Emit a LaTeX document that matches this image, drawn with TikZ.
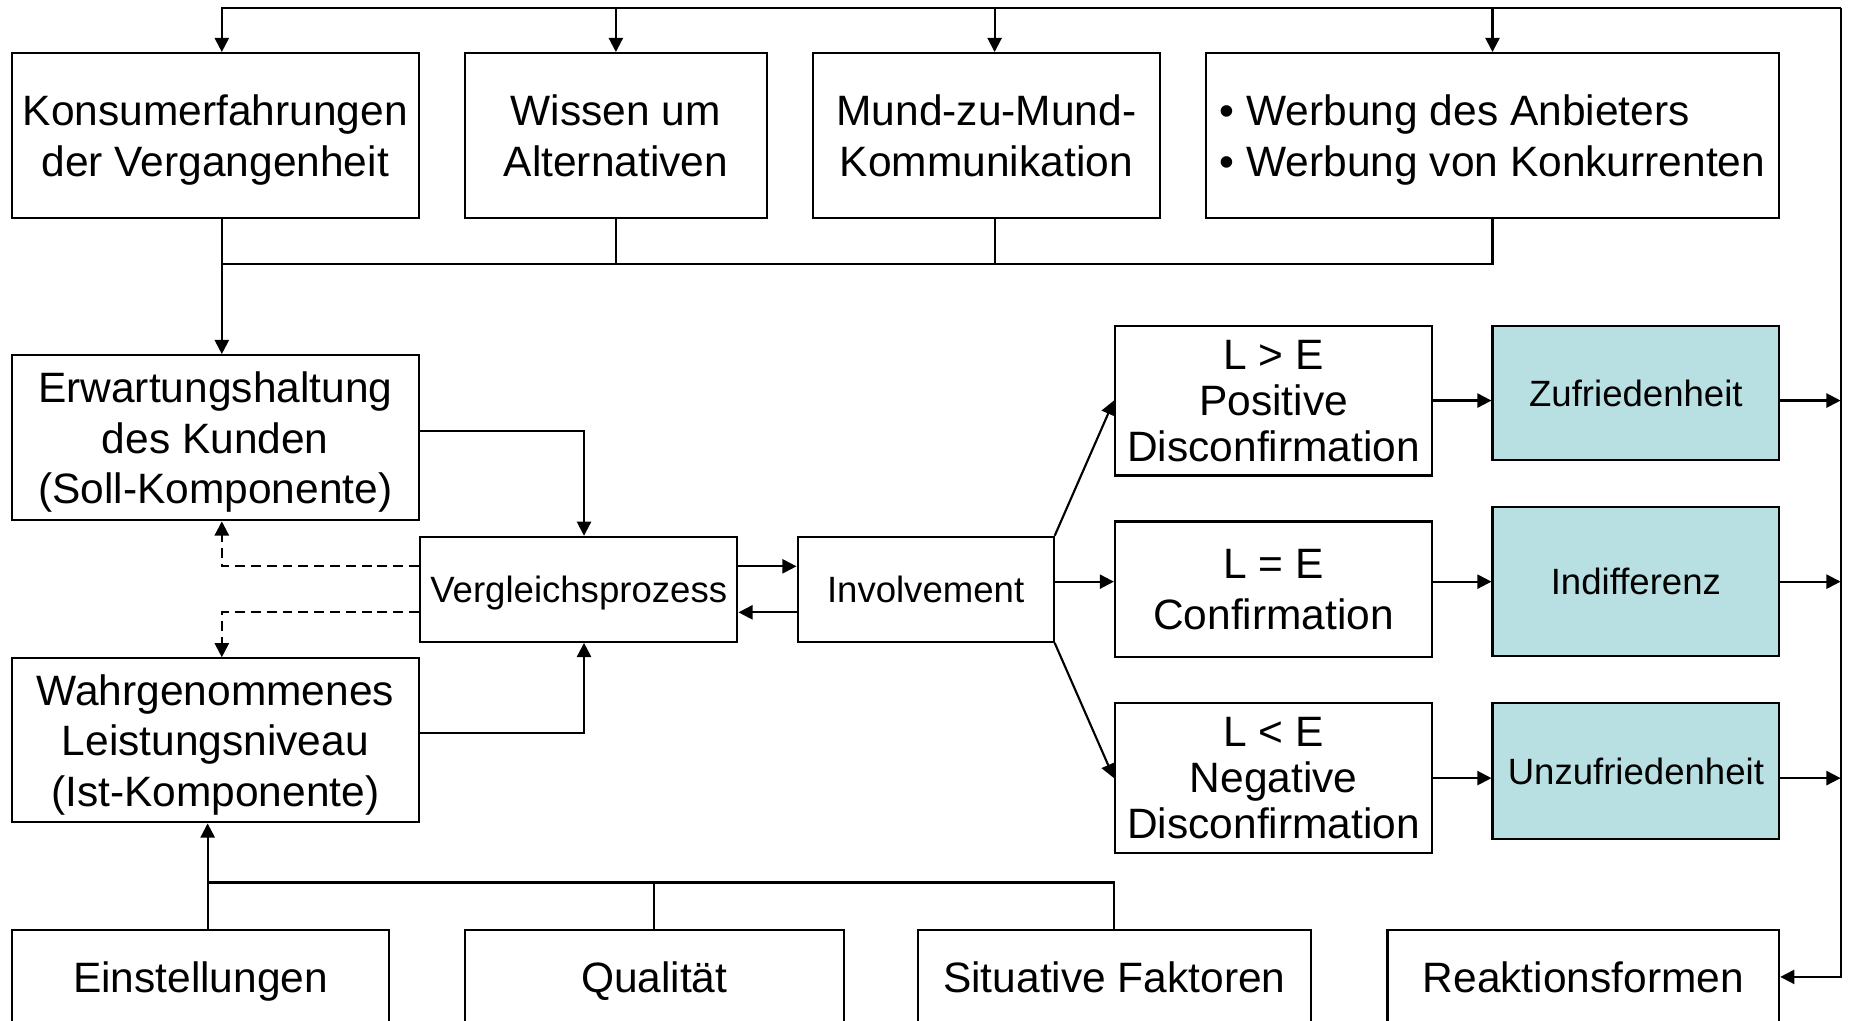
\documentclass[tikz,border=0pt]{standalone}
\usepackage{fontspec}
\setmainfont{Liberation Sans}
\usepackage{tikz}
\usetikzlibrary{arrows.meta,calc}
\definecolor{ink}{HTML}{000000}
\definecolor{lteal}{HTML}{B8DFE1}
\tikzset{
  >={Triangle[length=6pt,width=6pt]},
  every picture/.style={line width=0.9pt,draw=ink},
  bx/.style={draw=ink,fill=white,align=center,inner sep=0pt,text depth=0pt,font=\fontsize{18}{21.5}\selectfont},
  bxn/.style={bx,font=\fontsize{18}{19.5}\selectfont},
  bxs/.style={bx,font=\fontsize{15.5}{19}\selectfont},
  bxt/.style={bxs,fill=lteal},
  arr/.style={->,draw=ink},
  dsh/.style={->,draw=ink,dash pattern=on 4.2pt off 2.5pt},
}

\begin{document}
\begin{tikzpicture}[x=0.5pt,y=-0.5pt]
  \useasboundingbox (0,0) rectangle (1568,865);
  % sources on top
  \node[bx,minimum width=172.5pt,minimum height=70pt] (konsum) at (182.5,115) {Konsumerfahrungen\\der Vergangenheit};
  \node[bx,minimum width=128pt,minimum height=70pt] (wissen) at (522,115) {Wissen um\\Alternativen};
  \node[bx,minimum width=147pt,minimum height=70pt] (mund) at (836,115) {Mund-zu-Mund-\\Kommunikation};
  \node[bx,align=left,minimum width=243pt,minimum height=70pt] (werb) at (1265,115) {\textbullet\ Werbung des Anbieters\\\textbullet\ Werbung von Konkurrenten};
  % soll / ist and comparison
  \node[bx,minimum width=172.5pt,minimum height=70pt] (erw) at (182.5,371) {Erwartungshaltung\\des Kunden\\(Soll-Komponente)};
  \node[bx,minimum width=172.5pt,minimum height=69.5pt] (wahr) at (182.5,627.5) {Wahrgenommenes\\Leistungsniveau\\(Ist-Komponente)};
  \node[bxs,minimum width=134.5pt,minimum height=44.5pt] (vgl) at (490.5,499.5) {Vergleichsprozess};
  \node[bxs,minimum width=108.5pt,minimum height=44.5pt] (inv) at (784.5,499.5) {Involvement};
  % outcomes
  \node[bxn,minimum width=134.5pt,minimum height=63.5pt] (pos) at (1079.5,339.5) {L > E\\Positive\\Disconfirmation};
  \node[bx,minimum width=134.5pt,minimum height=57.5pt] (conf) at (1079.5,499.5) {L = E\\Confirmation};
  \node[bxn,minimum width=134.5pt,minimum height=63.5pt] (neg) at (1079.5,659.5) {L < E\\Negative\\Disconfirmation};
  \node[bxt,minimum width=121.5pt,minimum height=57pt] (zuf) at (1386.5,333) {Zufriedenheit};
  \node[bxt,minimum width=121.5pt,minimum height=63pt] (ind) at (1386.5,493) {Indifferenz};
  \node[bxt,minimum width=121.5pt,minimum height=57.5pt] (unz) at (1386.5,653.5) {Unzufriedenheit};
  % bottom row
  \node[bx,minimum width=160pt,minimum height=40pt] (einst) at (170,828) {Einstellungen};
  \node[bx,minimum width=160.5pt,minimum height=40pt] (qual) at (554.5,828) {Qualität};
  \node[bx,minimum width=166.5pt,minimum height=40pt] (sit) at (944.5,828) {Situative Faktoren};
  \node[bx,minimum width=166pt,minimum height=40pt] (reak) at (1342,828) {Reaktionsformen};

  \coordinate (rt) at (1560,7);
  \coordinate (hub) at (188,224);
  \coordinate (hub2) at (176,748);

  % feedback loop on the right
  \draw[arr] (rt) -| ([xshift=2.75pt]konsum.north);
  \draw[arr] (rt) -| (wissen.north);
  \draw[arr] (rt) -| ([xshift=3.5pt]mund.north);
  \draw[arr] (rt) -| (werb.north);
  \draw[arr] (rt) |- (reak.east);
  \draw[arr] (pos.east -| zuf.east) -- (pos.east -| rt);
  \draw[arr] (ind.east) -- (ind.east -| rt);
  \draw[arr] (neg.east -| unz.east) -- (neg.east -| rt);

  % sources into expectation
  \draw (wissen.south) |- (hub);
  \draw ([xshift=3.5pt]mund.south) |- (hub);
  \draw (werb.south) |- (hub);
  \draw[arr] ([xshift=2.75pt]konsum.south) -- ([xshift=2.75pt]erw.north);

  \draw[arr] ([yshift=3pt]erw.east) -| ([xshift=2.25pt]vgl.north);
  \draw[arr] ([yshift=3pt]wahr.east) -| ([xshift=2.25pt]vgl.south);
  \draw[dsh] ([yshift=9.75pt]vgl.west) -| ([xshift=2.75pt]erw.south);
  \draw[dsh] ([yshift=-9.75pt]vgl.west) -| ([xshift=2.75pt]wahr.north);
  \draw[arr] ([yshift=9.75pt]vgl.east) -- ([yshift=9.75pt]inv.west);
  \draw[arr] ([yshift=-9.75pt]inv.west) -- ([yshift=-9.75pt]vgl.east);

  \draw[arr] (inv.north east) -- (pos.west);
  \draw[arr] (ind.west -| inv.east) -- (ind.west -| conf.west);
  \draw[arr] (inv.south east) -- (neg.west);
  \draw[arr] (pos.east) -- (pos.east -| zuf.west);
  \draw[arr] (ind.west -| conf.east) -- (ind.west);
  \draw[arr] (neg.east) -- (neg.east -| unz.west);

  % influences on perceived performance
  \draw (qual.north |- einst.north) |- (hub2);
  \draw (sit.north) |- (hub2);
  \draw[arr] (hub2 |- einst.north) -- (hub2 |- wahr.south);
\end{tikzpicture}
\end{document}
